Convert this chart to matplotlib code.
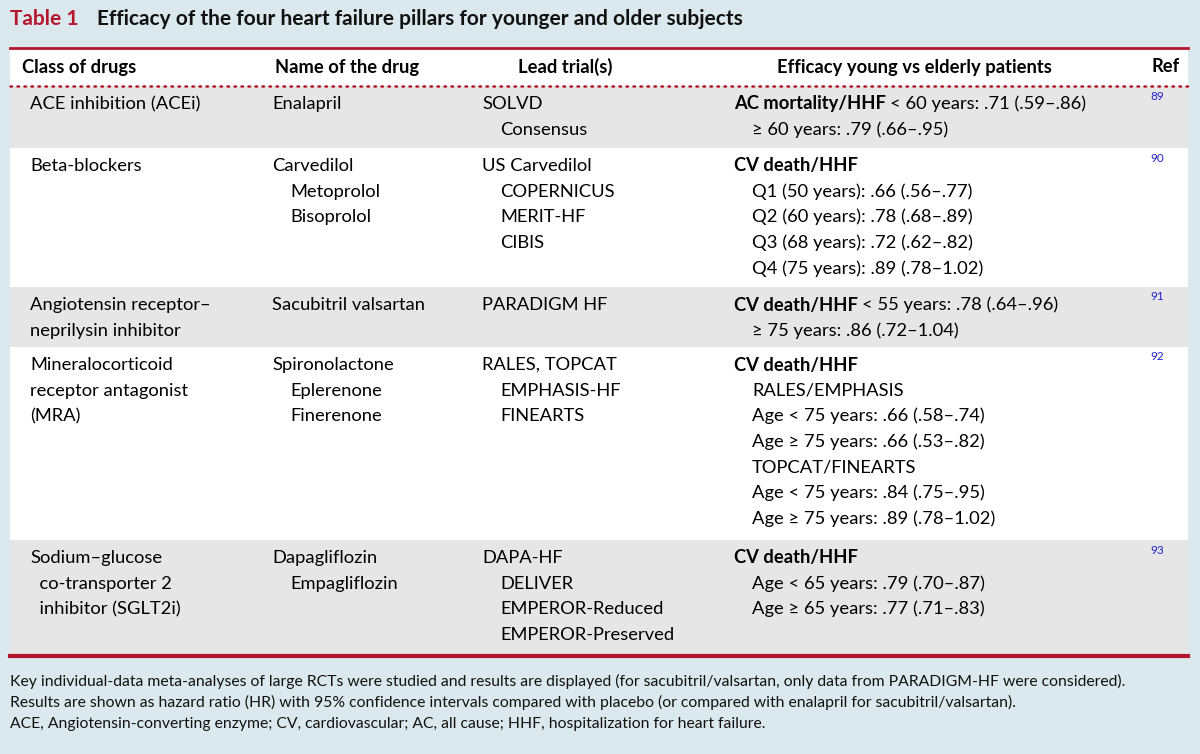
import matplotlib
matplotlib.use("Agg")
import matplotlib.pyplot as plt
from matplotlib.patches import Rectangle

plt.rcParams['font.family'] = ['Lato', 'DejaVu Sans']

title_label = "Table 1"
title_text = "Efficacy of the four heart failure pillars for younger and older subjects"
headers = ["Class of drugs", "Name of the drug", "Lead trial(s)", "Efficacy young vs elderly patients", "Ref"]

classes = [["ACE inhibition (ACEi)"],
           ["Beta-blockers"],
           ["Angiotensin receptor–", "neprilysin inhibitor"],
           ["Mineralocorticoid", "receptor antagonist", "(MRA)"],
           ["Sodium–glucose", "  co-transporter 2", "  inhibitor (SGLT2i)"]]
drugs = [["Enalapril"],
         ["Carvedilol", "  Metoprolol", "  Bisoprolol"],
         ["Sacubitril valsartan"],
         ["Spironolactone", "  Eplerenone", "  Finerenone"],
         ["Dapagliflozin", "  Empagliflozin"]]
trials = [["SOLVD", "  Consensus"],
          ["US Carvedilol", "  COPERNICUS", "  MERIT-HF", "  CIBIS"],
          ["PARADIGM HF"],
          ["RALES, TOPCAT", "  EMPHASIS-HF", "  FINEARTS"],
          ["DAPA-HF", "  DELIVER", "  EMPEROR-Reduced", "  EMPEROR-Preserved"]]
# (bold part, normal part)
efficacy = [[("AC mortality/HHF", " < 60 years: .71 (.59–.86)"), ("", "  ≥ 60 years: .79 (.66–.95)")],
            [("CV death/HHF", ""), ("", "  Q1 (50 years): .66 (.56–.77)"), ("", "  Q2 (60 years): .78 (.68–.89)"),
             ("", "  Q3 (68 years): .72 (.62–.82)"), ("", "  Q4 (75 years): .89 (.78–1.02)")],
            [("CV death/HHF", " < 55 years: .78 (.64–.96)"), ("", "  ≥ 75 years: .86 (.72–1.04)")],
            [("CV death/HHF", ""), ("", "  RALES/EMPHASIS"), ("", "  Age < 75 years: .66 (.58–.74)"),
             ("", "  Age ≥ 75 years: .66 (.53–.82)"), ("", "  TOPCAT/FINEARTS"),
             ("", "  Age < 75 years: .84 (.75–.95)"), ("", "  Age ≥ 75 years: .89 (.78–1.02)")],
            [("CV death/HHF", ""), ("", "  Age < 65 years: .79 (.70–.87)"), ("", "  Age ≥ 65 years: .77 (.71–.83)")]]
refs = ["89", "90", "91", "92", "93"]
footnotes = ["Key individual-data meta-analyses of large RCTs were studied and results are displayed (for sacubitril/valsartan, only data from PARADIGM-HF were considered).",
             "Results are shown as hazard ratio (HR) with 95% confidence intervals compared with placebo (or compared with enalapril for sacubitril/valsartan).",
             "ACE, Angiotensin-converting enzyme; CV, cardiovascular; AC, all cause; HHF, hospitalization for heart failure."]

W, H = 1200, 754
fig = plt.figure(figsize=(12, 7.54), dpi=100)
fig.patch.set_facecolor('#dbe9ee')
ax = fig.add_axes([0, 0, 1, 1])
ax.set_xlim(0, W); ax.set_ylim(H, 0); ax.axis('off')
RED = '#b5162b'
FS = 13.2

ax.text(10, 19, title_label, color=RED, fontsize=15, fontweight='bold', va='center')
ax.text(97, 19, title_text, color='#111', fontsize=15, fontweight='bold', va='center')

row_bounds = [(86, 148), (148, 287), (287, 347), (347, 540), (540, 656)]
ax.add_patch(Rectangle((10, 48), 1178, 38, facecolor='white', edgecolor='none'))
for i, (y0, y1) in enumerate(row_bounds):
    ax.add_patch(Rectangle((10, y0), 1178, y1 - y0, facecolor='#e6e6e6' if i % 2 == 0 else 'white', edgecolor='none'))
ax.plot([10, 1188], [48, 48], color=RED, lw=2)
ax.plot([10, 1188], [86, 86], color=RED, lw=1.8, ls=(0, (0.6, 2.2)), dash_capstyle='round')
ax.plot([10, 1188], [656, 656], color=RED, lw=3)

ax.text(22, 67, headers[0], fontsize=FS, fontweight='bold', va='center')
ax.text(275, 67, headers[1], fontsize=FS, fontweight='bold', va='center')
ax.text(565, 67, headers[2], fontsize=FS, fontweight='bold', va='center', ha='center')
ax.text(914, 67, headers[3], fontsize=FS, fontweight='bold', va='center', ha='center')
ax.text(1166, 67, headers[4], fontsize=FS, fontweight='bold', va='center', ha='center')

fig.canvas.draw()
r = fig.canvas.get_renderer()
LS = 25.6
for i, (y0, y1) in enumerate(row_bounds):
    yt = y0 + 18
    for j, s in enumerate(classes[i]):
        ax.text(30, yt + j * LS, s, fontsize=FS, va='center')
    for j, s in enumerate(drugs[i]):
        ax.text(272 + (18 if s.startswith('  ') else 0), yt + j * LS, s.strip(), fontsize=FS, va='center')
    for j, s in enumerate(trials[i]):
        ax.text(482 + (18 if s.startswith('  ') else 0), yt + j * LS, s.strip(), fontsize=FS, va='center')
    for j, (b, n) in enumerate(efficacy[i]):
        x = 734
        y = yt + j * LS
        if b:
            t = ax.text(x, y, b, fontsize=FS, fontweight='bold', va='center')
            bb = t.get_window_extent(renderer=r)
            x = bb.x1 + 4
            n = n.lstrip()
        elif n.startswith('  '):
            x = 752
            n = n.strip()
        if n:
            ax.text(x, y, n, fontsize=FS, va='center')
    ax.text(1150, y0 + 10, refs[i], fontsize=8.5, color='#2222cc', va='center')

for k, s in enumerate(footnotes):
    ax.text(10, 681 + k * 21.5, s, fontsize=11.3, va='center', color='#111')

fig.savefig('out.png', dpi=100, facecolor=fig.get_facecolor())
